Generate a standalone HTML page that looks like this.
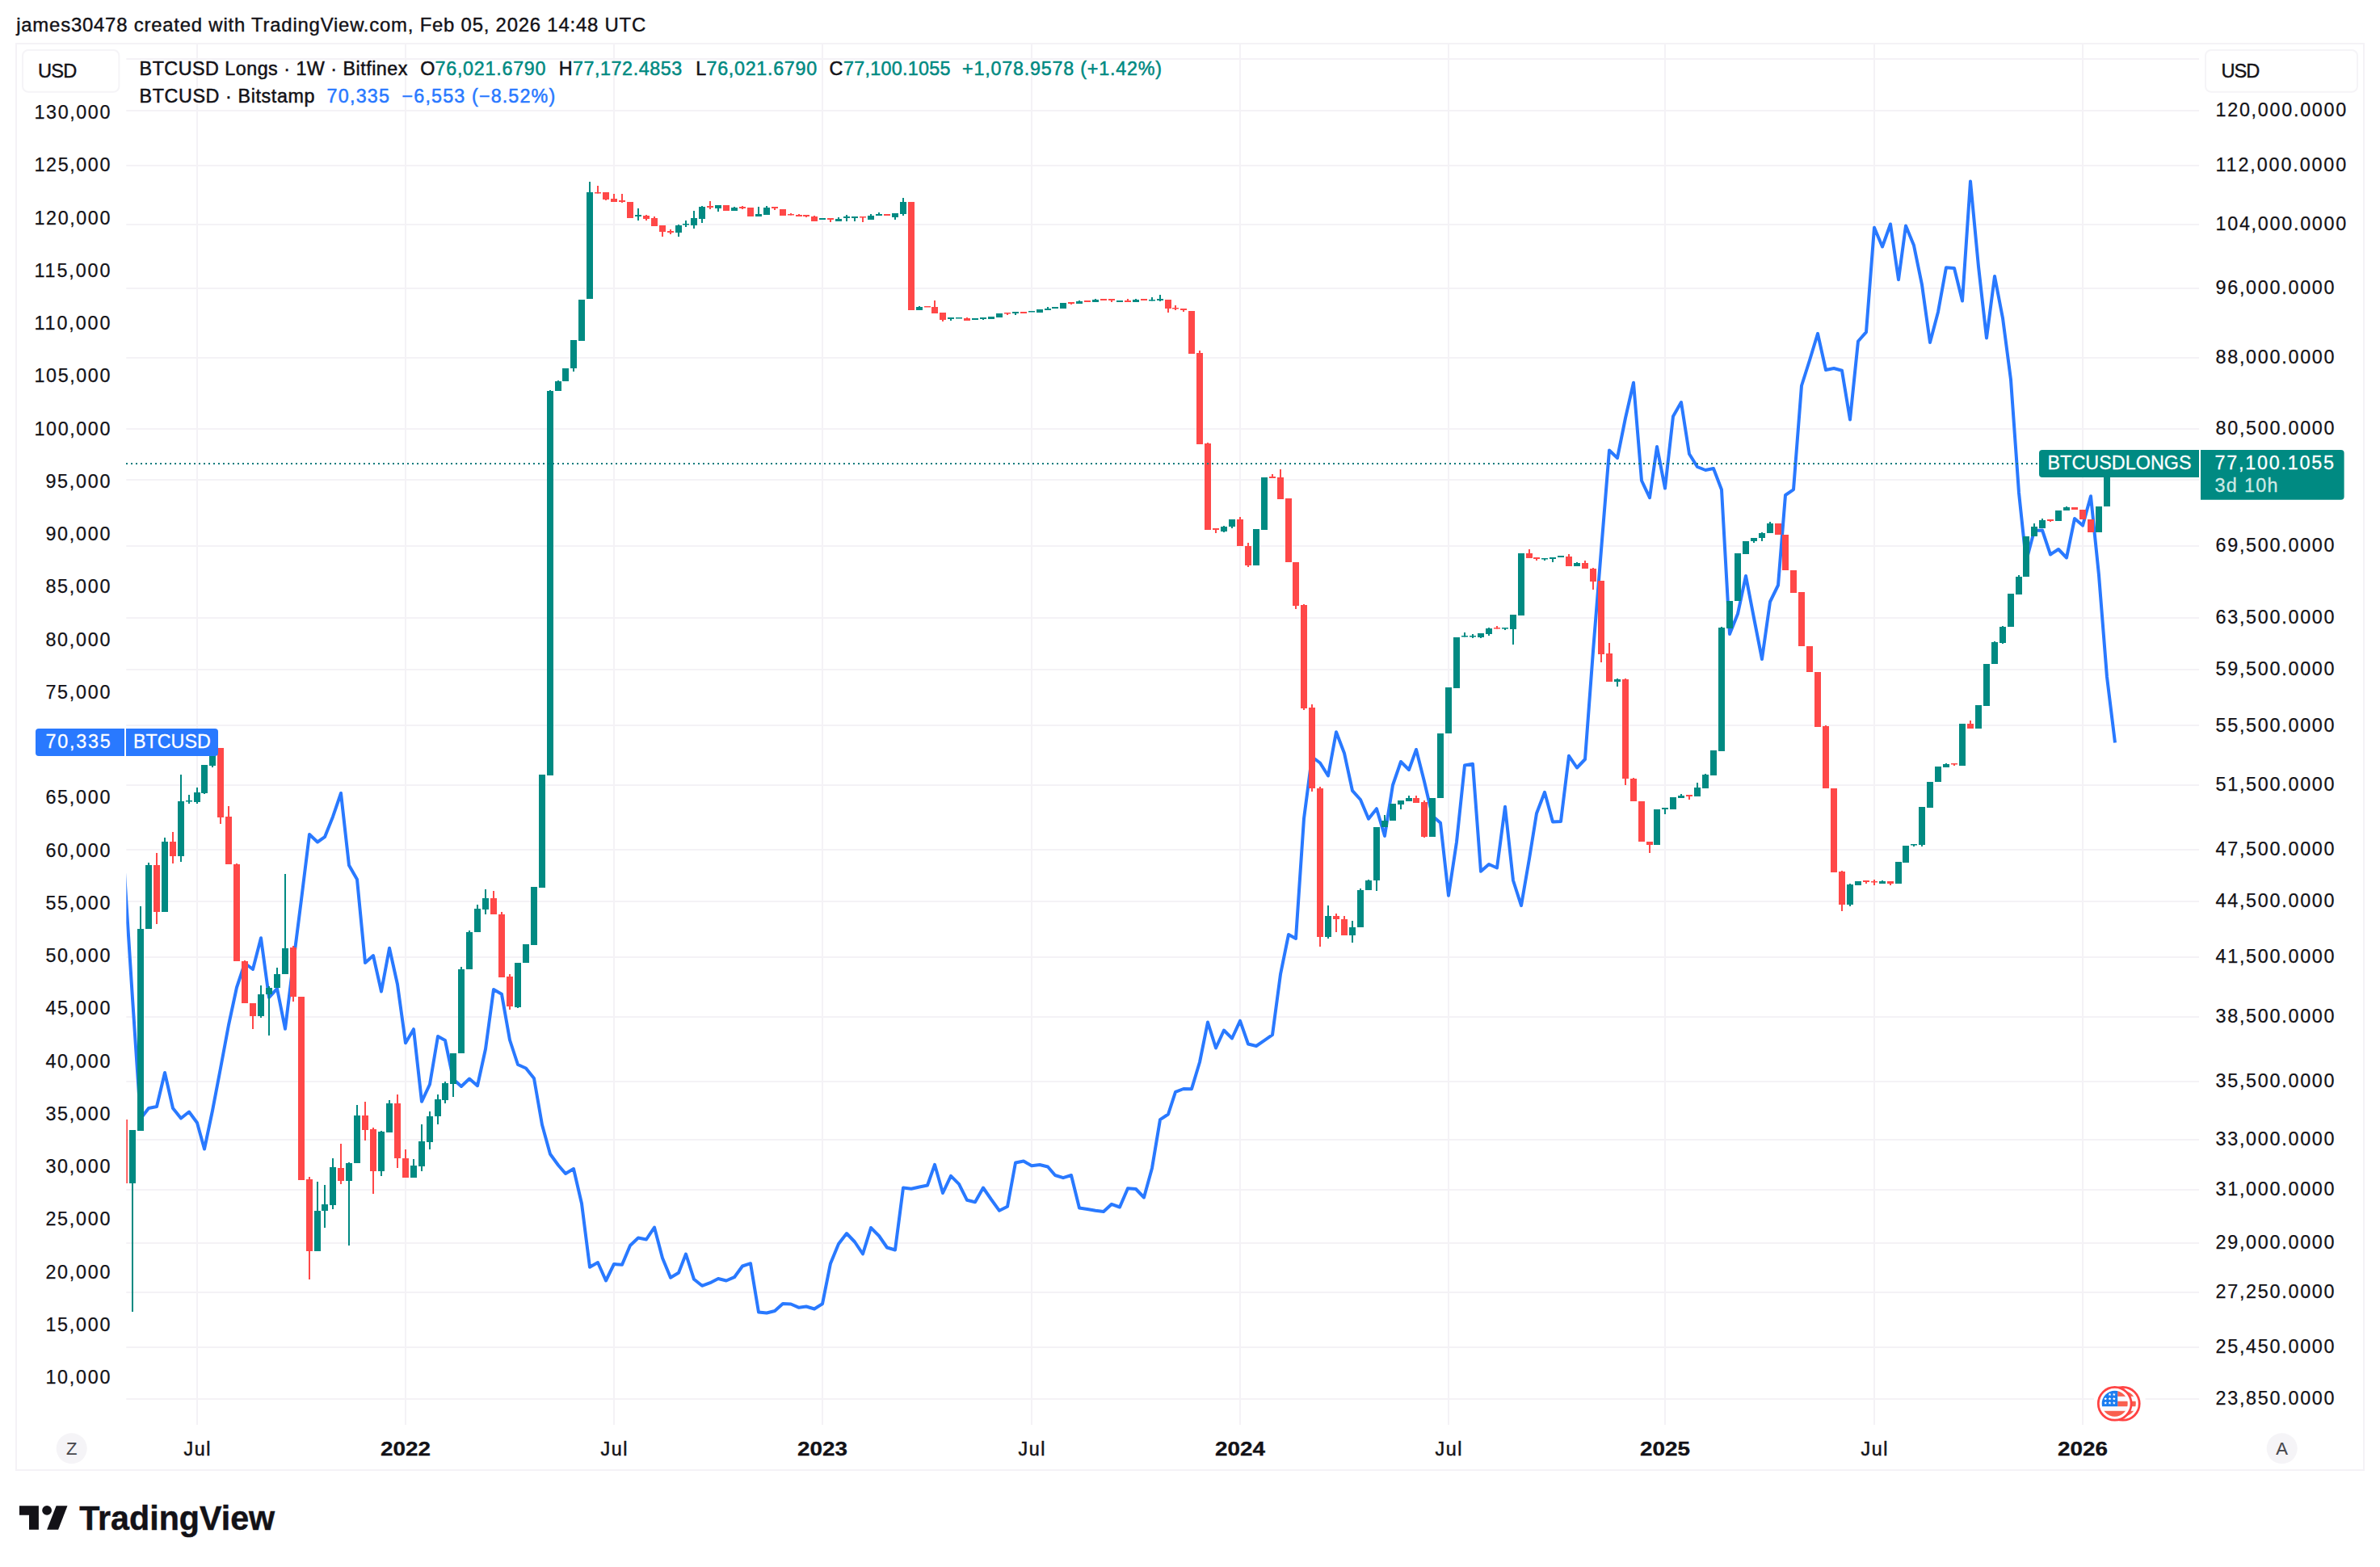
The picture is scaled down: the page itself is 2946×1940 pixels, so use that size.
<!DOCTYPE html><html><head><meta charset="utf-8"><title>BTCUSD Longs chart</title>
<style>html,body{margin:0;padding:0;background:#fff}svg{display:block}text{font-family:"Liberation Sans", Arial, sans-serif;}</style></head><body>
<svg width="2946" height="1940" viewBox="0 0 2946 1940">
<rect width="2946" height="1940" fill="#fff"/>
<rect x="20" y="54" width="2906" height="1766" fill="none" stroke="#f4f2f6" stroke-width="2"/>
<g stroke="#f4f2f6" stroke-width="2">
<line x1="156.3" y1="73.0" x2="2722.0" y2="73.0"/>
<line x1="156.3" y1="137.0" x2="2722.0" y2="137.0"/>
<line x1="156.3" y1="205.0" x2="2722.0" y2="205.0"/>
<line x1="156.3" y1="278.0" x2="2722.0" y2="278.0"/>
<line x1="156.3" y1="357.0" x2="2722.0" y2="357.0"/>
<line x1="156.3" y1="443.0" x2="2722.0" y2="443.0"/>
<line x1="156.3" y1="531.0" x2="2722.0" y2="531.0"/>
<line x1="156.3" y1="594.0" x2="2722.0" y2="594.0"/>
<line x1="156.3" y1="676.0" x2="2722.0" y2="676.0"/>
<line x1="156.3" y1="765.0" x2="2722.0" y2="765.0"/>
<line x1="156.3" y1="829.0" x2="2722.0" y2="829.0"/>
<line x1="156.3" y1="898.0" x2="2722.0" y2="898.0"/>
<line x1="156.3" y1="972.0" x2="2722.0" y2="972.0"/>
<line x1="156.3" y1="1052.0" x2="2722.0" y2="1052.0"/>
<line x1="156.3" y1="1116.0" x2="2722.0" y2="1116.0"/>
<line x1="156.3" y1="1185.0" x2="2722.0" y2="1185.0"/>
<line x1="156.3" y1="1259.0" x2="2722.0" y2="1259.0"/>
<line x1="156.3" y1="1339.0" x2="2722.0" y2="1339.0"/>
<line x1="156.3" y1="1411.0" x2="2722.0" y2="1411.0"/>
<line x1="156.3" y1="1473.0" x2="2722.0" y2="1473.0"/>
<line x1="156.3" y1="1539.0" x2="2722.0" y2="1539.0"/>
<line x1="156.3" y1="1600.0" x2="2722.0" y2="1600.0"/>
<line x1="156.3" y1="1668.0" x2="2722.0" y2="1668.0"/>
<line x1="156.3" y1="1732.0" x2="2722.0" y2="1732.0"/>
<line x1="244.0" y1="54.7" x2="244.0" y2="1764.0"/>
<line x1="502.0" y1="54.7" x2="502.0" y2="1764.0"/>
<line x1="760.0" y1="54.7" x2="760.0" y2="1764.0"/>
<line x1="1018.0" y1="54.7" x2="1018.0" y2="1764.0"/>
<line x1="1277.0" y1="54.7" x2="1277.0" y2="1764.0"/>
<line x1="1535.0" y1="54.7" x2="1535.0" y2="1764.0"/>
<line x1="1793.0" y1="54.7" x2="1793.0" y2="1764.0"/>
<line x1="2061.0" y1="54.7" x2="2061.0" y2="1764.0"/>
<line x1="2320.0" y1="54.7" x2="2320.0" y2="1764.0"/>
<line x1="2578.0" y1="54.7" x2="2578.0" y2="1764.0"/>
</g>
<defs><clipPath id="pc"><rect x="156.3" y="54.7" width="2565.7" height="1709.3"/></clipPath></defs>
<g clip-path="url(#pc)">
<polyline points="154.0,1080.0 164.0,1236.0 174.0,1385.0 184.0,1372.0 194.0,1370.0 204.0,1328.0 214.0,1372.0 224.0,1384.5 234.0,1376.5 244.0,1390.0 253.0,1422.5 263.0,1375.0 273.0,1322.5 283.0,1269.0 293.0,1222.5 303.0,1192.5 313.0,1200.0 323.0,1161.2 333.0,1235.0 343.0,1223.8 353.0,1273.8 363.0,1192.5 373.0,1113.8 383.0,1033.0 393.0,1042.5 402.0,1036.2 412.0,1011.2 422.0,982.0 432.0,1071.2 442.0,1088.8 452.0,1192.0 462.0,1183.0 472.0,1227.5 482.0,1173.8 492.0,1218.8 502.0,1291.2 512.0,1274.2 522.0,1363.8 532.0,1342.5 542.0,1283.0 551.0,1288.0 561.0,1336.0 571.0,1345.0 581.0,1335.5 591.0,1344.2 601.0,1298.8 611.0,1225.0 621.0,1230.8 631.0,1287.5 641.0,1318.0 651.0,1322.5 661.0,1335.0 671.0,1392.5 681.0,1428.8 691.0,1442.5 700.0,1453.0 710.0,1447.0 720.0,1490.0 730.0,1568.8 740.0,1563.0 750.0,1585.5 760.0,1565.0 770.0,1565.8 780.0,1542.0 790.0,1532.5 800.0,1534.5 810.0,1519.5 820.0,1557.5 830.0,1581.8 840.0,1575.8 849.0,1552.5 859.0,1583.8 869.0,1591.8 879.0,1588.2 889.0,1583.0 899.0,1585.5 909.0,1581.2 919.0,1567.5 929.0,1564.2 939.0,1624.5 949.0,1625.5 959.0,1623.0 969.0,1614.0 979.0,1614.5 989.0,1618.8 998.0,1617.5 1008.0,1620.5 1018.0,1614.2 1028.0,1564.2 1038.0,1540.0 1048.0,1527.0 1058.0,1537.5 1068.0,1552.5 1078.0,1520.0 1088.0,1530.0 1098.0,1544.5 1108.0,1547.5 1118.0,1470.5 1128.0,1471.8 1138.0,1469.5 1148.0,1467.5 1157.0,1441.8 1167.0,1477.0 1177.0,1455.8 1187.0,1465.8 1197.0,1485.8 1207.0,1488.2 1217.0,1470.5 1227.0,1485.0 1237.0,1498.8 1247.0,1493.8 1257.0,1439.5 1267.0,1437.5 1277.0,1443.2 1287.0,1442.0 1297.0,1444.5 1306.0,1455.0 1316.0,1458.2 1326.0,1455.0 1336.0,1495.5 1346.0,1497.0 1356.0,1498.8 1366.0,1500.0 1376.0,1490.8 1386.0,1494.5 1396.0,1471.2 1406.0,1472.0 1416.0,1482.5 1426.0,1446.2 1436.0,1386.2 1446.0,1379.5 1455.0,1351.8 1465.0,1348.0 1475.0,1348.2 1485.0,1315.0 1495.0,1265.5 1505.0,1297.5 1515.0,1275.5 1525.0,1285.5 1535.0,1263.8 1545.0,1292.5 1555.0,1295.0 1565.0,1288.2 1575.0,1281.2 1585.0,1206.2 1595.0,1157.0 1604.0,1162.0 1614.0,1013.5 1624.0,937.0 1634.0,944.5 1644.0,960.5 1654.0,906.2 1664.0,932.5 1674.0,978.8 1684.0,990.0 1694.0,1013.8 1704.0,1001.2 1714.0,1035.0 1724.0,972.0 1734.0,943.0 1744.0,953.0 1753.0,928.0 1763.0,967.5 1773.0,1010.0 1783.0,1018.8 1793.0,1108.8 1803.0,1042.5 1813.0,947.5 1823.0,945.8 1833.0,1078.8 1843.0,1070.0 1853.0,1074.5 1863.0,998.8 1873.0,1090.0 1883.0,1121.2 1893.0,1063.0 1902.0,1007.0 1912.0,980.8 1922.0,1017.5 1932.0,1017.0 1942.0,935.8 1952.0,950.5 1962.0,940.0 1972.0,806.0 1982.0,681.0 1992.0,557.5 2002.0,567.0 2012.0,517.5 2022.0,473.8 2032.0,595.0 2042.0,616.2 2051.0,553.0 2061.0,604.5 2071.0,515.5 2081.0,498.0 2091.0,562.0 2101.0,578.0 2111.0,582.0 2121.0,580.0 2131.0,606.2 2141.0,785.0 2151.0,760.0 2161.0,713.0 2171.0,765.0 2181.0,816.0 2191.0,745.0 2201.0,724.5 2210.0,613.0 2220.0,606.2 2230.0,477.5 2240.0,446.0 2250.0,413.0 2260.0,458.0 2270.0,456.0 2280.0,458.8 2290.0,519.5 2300.0,422.5 2310.0,411.2 2320.0,281.8 2330.0,305.5 2340.0,277.5 2350.0,346.2 2359.0,279.5 2369.0,303.8 2379.0,352.5 2389.0,424.0 2399.0,386.2 2409.0,331.2 2419.0,332.0 2429.0,372.5 2439.0,224.5 2449.0,330.0 2459.0,418.5 2469.0,342.0 2479.0,393.8 2489.0,470.0 2499.0,610.0 2508.0,695.0 2518.0,657.0 2528.0,656.5 2538.0,686.5 2548.0,680.0 2558.0,690.5 2568.0,642.0 2578.0,650.6 2588.0,614.2 2598.0,712.0 2608.0,838.0 2618.0,919.6" fill="none" stroke="#2979ff" stroke-width="4" stroke-linejoin="round" stroke-linecap="butt"/>
<g fill="#008a82">
<rect x="163.0" y="1399.0" width="2" height="225.0"/>
<rect x="160.0" y="1399.0" width="8" height="66.0"/>
<rect x="173.0" y="1122.0" width="2" height="278.0"/>
<rect x="170.0" y="1150.0" width="8" height="250.0"/>
<rect x="183.0" y="1068.0" width="2" height="82.0"/>
<rect x="180.0" y="1071.0" width="8" height="79.0"/>
<rect x="203.0" y="1037.0" width="2" height="92.0"/>
<rect x="200.0" y="1042.0" width="8" height="87.0"/>
<rect x="223.0" y="959.0" width="2" height="108.0"/>
<rect x="220.0" y="992.0" width="8" height="68.0"/>
<rect x="233.0" y="984.0" width="2" height="11.0"/>
<rect x="230.0" y="991.0" width="8" height="1.5"/>
<rect x="243.0" y="975.0" width="2" height="20.0"/>
<rect x="240.0" y="981.0" width="8" height="12.0"/>
<rect x="252.0" y="947.0" width="2" height="36.0"/>
<rect x="249.0" y="947.0" width="8" height="35.0"/>
<rect x="262.0" y="926.0" width="2" height="24.0"/>
<rect x="259.0" y="926.0" width="8" height="22.0"/>
<rect x="322.0" y="1220.0" width="2" height="40.0"/>
<rect x="319.0" y="1231.0" width="8" height="27.0"/>
<rect x="332.0" y="1221.0" width="2" height="61.0"/>
<rect x="329.0" y="1223.0" width="8" height="8.0"/>
<rect x="342.0" y="1198.0" width="2" height="25.0"/>
<rect x="339.0" y="1206.0" width="8" height="17.0"/>
<rect x="352.0" y="1082.0" width="2" height="124.0"/>
<rect x="349.0" y="1174.0" width="8" height="32.0"/>
<rect x="392.0" y="1463.0" width="2" height="86.0"/>
<rect x="389.0" y="1499.0" width="8" height="50.0"/>
<rect x="401.0" y="1467.0" width="2" height="53.0"/>
<rect x="398.0" y="1491.0" width="8" height="8.0"/>
<rect x="411.0" y="1434.0" width="2" height="63.0"/>
<rect x="408.0" y="1445.0" width="8" height="47.0"/>
<rect x="431.0" y="1439.0" width="2" height="103.0"/>
<rect x="428.0" y="1440.0" width="8" height="22.0"/>
<rect x="441.0" y="1368.0" width="2" height="72.0"/>
<rect x="438.0" y="1381.0" width="8" height="59.0"/>
<rect x="471.0" y="1400.0" width="2" height="56.0"/>
<rect x="468.0" y="1401.0" width="8" height="49.0"/>
<rect x="481.0" y="1362.0" width="2" height="40.0"/>
<rect x="478.0" y="1366.0" width="8" height="36.0"/>
<rect x="511.0" y="1435.0" width="2" height="23.0"/>
<rect x="508.0" y="1443.0" width="8" height="15.0"/>
<rect x="521.0" y="1392.0" width="2" height="58.0"/>
<rect x="518.0" y="1413.0" width="8" height="31.0"/>
<rect x="531.0" y="1376.0" width="2" height="47.0"/>
<rect x="528.0" y="1382.0" width="8" height="32.0"/>
<rect x="541.0" y="1355.0" width="2" height="37.0"/>
<rect x="538.0" y="1361.0" width="8" height="21.0"/>
<rect x="550.0" y="1339.0" width="2" height="27.0"/>
<rect x="547.0" y="1341.0" width="8" height="21.0"/>
<rect x="560.0" y="1304.0" width="2" height="54.0"/>
<rect x="557.0" y="1304.0" width="8" height="38.0"/>
<rect x="570.0" y="1197.0" width="2" height="107.0"/>
<rect x="567.0" y="1200.0" width="8" height="104.0"/>
<rect x="580.0" y="1152.0" width="2" height="48.0"/>
<rect x="577.0" y="1154.0" width="8" height="46.0"/>
<rect x="590.0" y="1120.0" width="2" height="34.0"/>
<rect x="587.0" y="1125.0" width="8" height="29.0"/>
<rect x="600.0" y="1101.0" width="2" height="31.0"/>
<rect x="597.0" y="1112.0" width="8" height="14.0"/>
<rect x="640.0" y="1192.0" width="2" height="56.0"/>
<rect x="637.0" y="1192.0" width="8" height="55.0"/>
<rect x="647.0" y="1169.0" width="8" height="23.0"/>
<rect x="657.0" y="1098.0" width="8" height="72.0"/>
<rect x="667.0" y="959.0" width="8" height="140.0"/>
<rect x="680.0" y="483.0" width="2" height="477.0"/>
<rect x="677.0" y="484.0" width="8" height="476.0"/>
<rect x="690.0" y="471.0" width="2" height="13.0"/>
<rect x="687.0" y="472.0" width="8" height="12.0"/>
<rect x="696.0" y="456.0" width="8" height="16.0"/>
<rect x="709.0" y="421.0" width="2" height="39.0"/>
<rect x="706.0" y="421.0" width="8" height="35.0"/>
<rect x="716.0" y="371.0" width="8" height="51.0"/>
<rect x="729.0" y="225.0" width="2" height="145.0"/>
<rect x="726.0" y="238.0" width="8" height="132.0"/>
<rect x="789.0" y="258.0" width="2" height="15.0"/>
<rect x="786.0" y="266.0" width="8" height="2.0"/>
<rect x="839.0" y="278.0" width="2" height="15.0"/>
<rect x="836.0" y="279.0" width="8" height="9.0"/>
<rect x="848.0" y="273.0" width="2" height="8.0"/>
<rect x="845.0" y="277.0" width="8" height="1.5"/>
<rect x="858.0" y="261.0" width="2" height="22.0"/>
<rect x="855.0" y="270.0" width="8" height="9.0"/>
<rect x="868.0" y="255.0" width="2" height="21.0"/>
<rect x="865.0" y="256.0" width="8" height="15.0"/>
<rect x="888.0" y="254.0" width="2" height="8.0"/>
<rect x="885.0" y="254.0" width="8" height="4.0"/>
<rect x="908.0" y="256.0" width="2" height="5.0"/>
<rect x="905.0" y="257.0" width="8" height="4.0"/>
<rect x="938.0" y="256.0" width="2" height="12.0"/>
<rect x="935.0" y="265.0" width="8" height="3.0"/>
<rect x="948.0" y="255.0" width="2" height="11.0"/>
<rect x="945.0" y="257.0" width="8" height="9.0"/>
<rect x="1014.0" y="270.0" width="8" height="2.0"/>
<rect x="1037.0" y="269.0" width="2" height="5.0"/>
<rect x="1034.0" y="271.0" width="8" height="3.0"/>
<rect x="1047.0" y="266.0" width="2" height="8.0"/>
<rect x="1044.0" y="268.0" width="8" height="2.0"/>
<rect x="1057.0" y="268.0" width="2" height="6.0"/>
<rect x="1054.0" y="268.0" width="8" height="2.0"/>
<rect x="1077.0" y="265.0" width="2" height="7.0"/>
<rect x="1074.0" y="267.0" width="8" height="5.0"/>
<rect x="1087.0" y="263.0" width="2" height="4.0"/>
<rect x="1084.0" y="265.0" width="8" height="2.0"/>
<rect x="1107.0" y="264.0" width="2" height="8.0"/>
<rect x="1104.0" y="264.0" width="8" height="5.0"/>
<rect x="1117.0" y="245.0" width="2" height="22.0"/>
<rect x="1114.0" y="250.0" width="8" height="15.0"/>
<rect x="1137.0" y="379.0" width="2" height="5.0"/>
<rect x="1134.0" y="380.0" width="8" height="4.0"/>
<rect x="1176.0" y="393.0" width="2" height="4.0"/>
<rect x="1173.0" y="393.0" width="8" height="2.0"/>
<rect x="1183.0" y="393.0" width="8" height="1.5"/>
<rect x="1203.0" y="394.0" width="8" height="2.0"/>
<rect x="1216.0" y="393.0" width="2" height="3.0"/>
<rect x="1213.0" y="393.0" width="8" height="2.0"/>
<rect x="1223.0" y="392.0" width="8" height="3.0"/>
<rect x="1233.0" y="388.0" width="8" height="5.0"/>
<rect x="1256.0" y="386.0" width="2" height="4.0"/>
<rect x="1253.0" y="386.0" width="8" height="2.0"/>
<rect x="1273.0" y="385.0" width="8" height="1.5"/>
<rect x="1283.0" y="383.0" width="8" height="4.0"/>
<rect x="1296.0" y="380.0" width="2" height="4.0"/>
<rect x="1293.0" y="382.0" width="8" height="2.0"/>
<rect x="1302.0" y="380.0" width="8" height="2.0"/>
<rect x="1312.0" y="375.0" width="8" height="7.0"/>
<rect x="1335.0" y="372.0" width="2" height="4.0"/>
<rect x="1332.0" y="373.0" width="8" height="3.0"/>
<rect x="1355.0" y="370.0" width="2" height="4.0"/>
<rect x="1352.0" y="371.0" width="8" height="3.0"/>
<rect x="1382.0" y="372.0" width="8" height="2.0"/>
<rect x="1405.0" y="370.0" width="2" height="4.0"/>
<rect x="1402.0" y="371.0" width="8" height="3.0"/>
<rect x="1425.0" y="368.0" width="2" height="4.5"/>
<rect x="1422.0" y="371.0" width="8" height="1.5"/>
<rect x="1435.0" y="365.0" width="2" height="8.0"/>
<rect x="1432.0" y="370.0" width="8" height="2.0"/>
<rect x="1514.0" y="651.0" width="2" height="8.0"/>
<rect x="1511.0" y="652.0" width="8" height="6.0"/>
<rect x="1524.0" y="643.0" width="2" height="11.0"/>
<rect x="1521.0" y="643.0" width="8" height="9.0"/>
<rect x="1551.0" y="655.0" width="8" height="45.0"/>
<rect x="1561.0" y="591.0" width="8" height="65.0"/>
<rect x="1643.0" y="1121.0" width="2" height="41.0"/>
<rect x="1640.0" y="1134.0" width="8" height="26.0"/>
<rect x="1673.0" y="1140.0" width="2" height="27.0"/>
<rect x="1670.0" y="1148.0" width="8" height="10.0"/>
<rect x="1683.0" y="1100.0" width="2" height="48.0"/>
<rect x="1680.0" y="1102.0" width="8" height="46.0"/>
<rect x="1693.0" y="1089.0" width="2" height="13.0"/>
<rect x="1690.0" y="1090.0" width="8" height="12.0"/>
<rect x="1703.0" y="1024.0" width="2" height="79.0"/>
<rect x="1700.0" y="1024.0" width="8" height="66.0"/>
<rect x="1713.0" y="1009.0" width="2" height="15.0"/>
<rect x="1710.0" y="1016.0" width="8" height="8.0"/>
<rect x="1720.0" y="995.0" width="8" height="21.0"/>
<rect x="1733.0" y="991.0" width="2" height="11.0"/>
<rect x="1730.0" y="991.0" width="8" height="5.0"/>
<rect x="1743.0" y="985.0" width="2" height="7.0"/>
<rect x="1740.0" y="988.0" width="8" height="4.0"/>
<rect x="1769.0" y="988.0" width="8" height="48.0"/>
<rect x="1779.0" y="908.0" width="8" height="80.0"/>
<rect x="1789.0" y="851.0" width="8" height="57.0"/>
<rect x="1799.0" y="789.0" width="8" height="63.0"/>
<rect x="1812.0" y="783.0" width="2" height="5.5"/>
<rect x="1809.0" y="787.0" width="8" height="1.5"/>
<rect x="1822.0" y="785.0" width="2" height="5.0"/>
<rect x="1819.0" y="787.0" width="8" height="1.5"/>
<rect x="1832.0" y="784.0" width="2" height="6.0"/>
<rect x="1829.0" y="784.0" width="8" height="5.0"/>
<rect x="1842.0" y="777.0" width="2" height="10.0"/>
<rect x="1839.0" y="778.0" width="8" height="7.0"/>
<rect x="1862.0" y="777.0" width="2" height="3.0"/>
<rect x="1859.0" y="777.0" width="8" height="1.5"/>
<rect x="1872.0" y="761.0" width="2" height="37.0"/>
<rect x="1869.0" y="761.0" width="8" height="18.0"/>
<rect x="1879.0" y="685.0" width="8" height="77.0"/>
<rect x="1911.0" y="691.0" width="2" height="3.0"/>
<rect x="1908.0" y="691.0" width="8" height="1.5"/>
<rect x="1921.0" y="690.0" width="2" height="6.0"/>
<rect x="1918.0" y="690.0" width="8" height="2.0"/>
<rect x="1928.0" y="688.0" width="8" height="2.0"/>
<rect x="1951.0" y="696.0" width="2" height="5.0"/>
<rect x="1948.0" y="697.0" width="8" height="4.0"/>
<rect x="2001.0" y="840.0" width="2" height="10.0"/>
<rect x="1998.0" y="841.0" width="8" height="3.0"/>
<rect x="2047.0" y="1002.0" width="8" height="44.0"/>
<rect x="2060.0" y="1000.0" width="2" height="8.0"/>
<rect x="2057.0" y="1000.0" width="8" height="2.0"/>
<rect x="2067.0" y="987.0" width="8" height="15.0"/>
<rect x="2080.0" y="983.0" width="2" height="5.0"/>
<rect x="2077.0" y="985.0" width="8" height="3.0"/>
<rect x="2100.0" y="969.0" width="2" height="17.0"/>
<rect x="2097.0" y="975.0" width="8" height="11.0"/>
<rect x="2110.0" y="958.0" width="2" height="18.0"/>
<rect x="2107.0" y="959.0" width="8" height="17.0"/>
<rect x="2117.0" y="929.0" width="8" height="31.0"/>
<rect x="2130.0" y="776.0" width="2" height="154.0"/>
<rect x="2127.0" y="777.0" width="8" height="153.0"/>
<rect x="2137.0" y="744.0" width="8" height="34.0"/>
<rect x="2147.0" y="685.0" width="8" height="59.0"/>
<rect x="2157.0" y="670.0" width="8" height="16.0"/>
<rect x="2170.0" y="666.0" width="2" height="6.0"/>
<rect x="2167.0" y="666.0" width="8" height="4.0"/>
<rect x="2180.0" y="659.0" width="2" height="11.0"/>
<rect x="2177.0" y="660.0" width="8" height="6.0"/>
<rect x="2190.0" y="646.0" width="2" height="14.0"/>
<rect x="2187.0" y="648.0" width="8" height="12.0"/>
<rect x="2289.0" y="1094.0" width="2" height="28.0"/>
<rect x="2286.0" y="1095.0" width="8" height="25.0"/>
<rect x="2296.0" y="1091.0" width="8" height="5.0"/>
<rect x="2329.0" y="1090.0" width="2" height="4.0"/>
<rect x="2326.0" y="1091.0" width="8" height="3.0"/>
<rect x="2346.0" y="1067.0" width="8" height="27.0"/>
<rect x="2355.0" y="1047.0" width="8" height="21.0"/>
<rect x="2368.0" y="1045.0" width="2" height="3.0"/>
<rect x="2365.0" y="1045.0" width="8" height="1.5"/>
<rect x="2378.0" y="999.0" width="2" height="49.0"/>
<rect x="2375.0" y="999.0" width="8" height="47.0"/>
<rect x="2385.0" y="968.0" width="8" height="32.0"/>
<rect x="2395.0" y="949.0" width="8" height="19.0"/>
<rect x="2408.0" y="945.0" width="2" height="5.0"/>
<rect x="2405.0" y="946.0" width="8" height="4.0"/>
<rect x="2425.0" y="896.0" width="8" height="52.0"/>
<rect x="2445.0" y="873.0" width="8" height="29.0"/>
<rect x="2455.0" y="822.0" width="8" height="52.0"/>
<rect x="2468.0" y="794.0" width="2" height="28.0"/>
<rect x="2465.0" y="795.0" width="8" height="27.0"/>
<rect x="2478.0" y="775.0" width="2" height="22.0"/>
<rect x="2475.0" y="776.0" width="8" height="20.0"/>
<rect x="2485.0" y="735.0" width="8" height="41.0"/>
<rect x="2498.0" y="712.0" width="2" height="24.0"/>
<rect x="2495.0" y="714.0" width="8" height="22.0"/>
<rect x="2504.0" y="664.0" width="8" height="50.0"/>
<rect x="2517.0" y="648.0" width="2" height="16.0"/>
<rect x="2514.0" y="652.0" width="8" height="12.0"/>
<rect x="2527.0" y="642.0" width="2" height="12.0"/>
<rect x="2524.0" y="644.0" width="8" height="10.0"/>
<rect x="2544.0" y="632.0" width="8" height="13.0"/>
<rect x="2557.0" y="627.0" width="2" height="5.0"/>
<rect x="2554.0" y="628.0" width="8" height="4.0"/>
<rect x="2594.0" y="627.0" width="8" height="32.0"/>
<rect x="2604.0" y="591.0" width="8" height="36.0"/>
</g>
<g fill="#ff4848">
<rect x="150.0" y="1386.0" width="8" height="79.0"/>
<rect x="193.0" y="1056.0" width="2" height="88.0"/>
<rect x="190.0" y="1071.0" width="8" height="58.0"/>
<rect x="213.0" y="1030.0" width="2" height="39.0"/>
<rect x="210.0" y="1042.0" width="8" height="18.0"/>
<rect x="272.0" y="926.0" width="2" height="94.0"/>
<rect x="269.0" y="926.0" width="8" height="86.0"/>
<rect x="282.0" y="998.0" width="2" height="72.0"/>
<rect x="279.0" y="1011.0" width="8" height="59.0"/>
<rect x="292.0" y="1069.0" width="2" height="121.0"/>
<rect x="289.0" y="1070.0" width="8" height="120.0"/>
<rect x="302.0" y="1189.0" width="2" height="53.0"/>
<rect x="299.0" y="1190.0" width="8" height="52.0"/>
<rect x="312.0" y="1242.0" width="2" height="32.0"/>
<rect x="309.0" y="1242.0" width="8" height="16.0"/>
<rect x="362.0" y="1171.0" width="2" height="69.0"/>
<rect x="359.0" y="1173.0" width="8" height="61.0"/>
<rect x="369.0" y="1234.0" width="8" height="227.0"/>
<rect x="382.0" y="1457.0" width="2" height="127.0"/>
<rect x="379.0" y="1460.0" width="8" height="89.0"/>
<rect x="421.0" y="1416.0" width="2" height="50.0"/>
<rect x="418.0" y="1446.0" width="8" height="16.0"/>
<rect x="451.0" y="1364.0" width="2" height="48.0"/>
<rect x="448.0" y="1381.0" width="8" height="18.0"/>
<rect x="461.0" y="1396.0" width="2" height="82.0"/>
<rect x="458.0" y="1398.0" width="8" height="52.0"/>
<rect x="491.0" y="1355.0" width="2" height="91.0"/>
<rect x="488.0" y="1366.0" width="8" height="68.0"/>
<rect x="501.0" y="1423.0" width="2" height="35.0"/>
<rect x="498.0" y="1434.0" width="8" height="24.0"/>
<rect x="610.0" y="1103.0" width="2" height="29.0"/>
<rect x="607.0" y="1112.0" width="8" height="20.0"/>
<rect x="620.0" y="1129.0" width="2" height="81.0"/>
<rect x="617.0" y="1132.0" width="8" height="78.0"/>
<rect x="630.0" y="1206.0" width="2" height="44.0"/>
<rect x="627.0" y="1209.0" width="8" height="37.0"/>
<rect x="739.0" y="230.0" width="2" height="9.5"/>
<rect x="736.0" y="238.0" width="8" height="1.5"/>
<rect x="749.0" y="238.0" width="2" height="10.0"/>
<rect x="746.0" y="238.0" width="8" height="9.0"/>
<rect x="759.0" y="240.0" width="2" height="10.0"/>
<rect x="756.0" y="246.0" width="8" height="4.0"/>
<rect x="769.0" y="240.0" width="2" height="11.0"/>
<rect x="766.0" y="248.0" width="8" height="2.0"/>
<rect x="776.0" y="250.0" width="8" height="20.0"/>
<rect x="799.0" y="266.0" width="2" height="7.0"/>
<rect x="796.0" y="267.0" width="8" height="4.0"/>
<rect x="809.0" y="268.0" width="2" height="12.0"/>
<rect x="806.0" y="270.0" width="8" height="10.0"/>
<rect x="819.0" y="279.0" width="2" height="14.0"/>
<rect x="816.0" y="279.0" width="8" height="8.0"/>
<rect x="829.0" y="284.0" width="2" height="6.0"/>
<rect x="826.0" y="286.0" width="8" height="2.0"/>
<rect x="878.0" y="249.0" width="2" height="10.0"/>
<rect x="875.0" y="255.0" width="8" height="2.0"/>
<rect x="895.0" y="254.0" width="8" height="7.0"/>
<rect x="918.0" y="255.0" width="2" height="4.0"/>
<rect x="915.0" y="256.0" width="8" height="2.0"/>
<rect x="925.0" y="257.0" width="8" height="11.0"/>
<rect x="958.0" y="256.0" width="2" height="4.0"/>
<rect x="955.0" y="256.0" width="8" height="2.0"/>
<rect x="965.0" y="259.0" width="8" height="8.0"/>
<rect x="978.0" y="264.0" width="2" height="2.5"/>
<rect x="975.0" y="265.0" width="8" height="1.5"/>
<rect x="988.0" y="265.0" width="2" height="3.0"/>
<rect x="985.0" y="266.0" width="8" height="2.0"/>
<rect x="997.0" y="266.0" width="2" height="3.0"/>
<rect x="994.0" y="266.0" width="8" height="2.0"/>
<rect x="1007.0" y="267.0" width="2" height="7.0"/>
<rect x="1004.0" y="268.0" width="8" height="6.0"/>
<rect x="1027.0" y="270.0" width="2" height="5.0"/>
<rect x="1024.0" y="270.0" width="8" height="2.0"/>
<rect x="1067.0" y="268.0" width="2" height="7.0"/>
<rect x="1064.0" y="268.0" width="8" height="1.5"/>
<rect x="1094.0" y="265.0" width="8" height="2.0"/>
<rect x="1124.0" y="250.0" width="8" height="134.0"/>
<rect x="1144.0" y="379.0" width="8" height="1.5"/>
<rect x="1156.0" y="372.0" width="2" height="16.0"/>
<rect x="1153.0" y="380.0" width="8" height="8.0"/>
<rect x="1166.0" y="387.0" width="2" height="11.0"/>
<rect x="1163.0" y="387.0" width="8" height="9.0"/>
<rect x="1196.0" y="393.0" width="2" height="4.0"/>
<rect x="1193.0" y="394.0" width="8" height="3.0"/>
<rect x="1246.0" y="387.0" width="2" height="3.0"/>
<rect x="1243.0" y="387.0" width="8" height="1.5"/>
<rect x="1263.0" y="386.0" width="8" height="2.0"/>
<rect x="1325.0" y="374.0" width="2" height="3.0"/>
<rect x="1322.0" y="374.0" width="8" height="2.0"/>
<rect x="1342.0" y="372.0" width="8" height="2.0"/>
<rect x="1362.0" y="370.0" width="8" height="2.0"/>
<rect x="1375.0" y="370.0" width="2" height="4.0"/>
<rect x="1372.0" y="370.0" width="8" height="2.0"/>
<rect x="1395.0" y="370.0" width="2" height="4.0"/>
<rect x="1392.0" y="372.0" width="8" height="2.0"/>
<rect x="1412.0" y="370.0" width="8" height="2.0"/>
<rect x="1445.0" y="371.0" width="2" height="16.0"/>
<rect x="1442.0" y="371.0" width="8" height="11.0"/>
<rect x="1454.0" y="378.0" width="2" height="6.0"/>
<rect x="1451.0" y="381.0" width="8" height="1.5"/>
<rect x="1464.0" y="382.0" width="2" height="4.0"/>
<rect x="1461.0" y="382.0" width="8" height="2.0"/>
<rect x="1471.0" y="385.0" width="8" height="53.0"/>
<rect x="1484.0" y="434.0" width="2" height="116.0"/>
<rect x="1481.0" y="437.0" width="8" height="113.0"/>
<rect x="1494.0" y="548.0" width="2" height="108.0"/>
<rect x="1491.0" y="549.0" width="8" height="107.0"/>
<rect x="1504.0" y="654.0" width="2" height="6.0"/>
<rect x="1501.0" y="654.0" width="8" height="2.0"/>
<rect x="1534.0" y="640.0" width="2" height="36.0"/>
<rect x="1531.0" y="643.0" width="8" height="33.0"/>
<rect x="1544.0" y="672.0" width="2" height="30.0"/>
<rect x="1541.0" y="676.0" width="8" height="24.0"/>
<rect x="1574.0" y="587.0" width="2" height="5.0"/>
<rect x="1571.0" y="590.0" width="8" height="2.0"/>
<rect x="1584.0" y="581.0" width="2" height="37.0"/>
<rect x="1581.0" y="591.0" width="8" height="27.0"/>
<rect x="1591.0" y="617.0" width="8" height="79.0"/>
<rect x="1603.0" y="696.0" width="2" height="58.0"/>
<rect x="1600.0" y="696.0" width="8" height="54.0"/>
<rect x="1613.0" y="748.0" width="2" height="131.0"/>
<rect x="1610.0" y="749.0" width="8" height="128.0"/>
<rect x="1623.0" y="872.0" width="2" height="108.0"/>
<rect x="1620.0" y="876.0" width="8" height="100.0"/>
<rect x="1633.0" y="974.0" width="2" height="198.0"/>
<rect x="1630.0" y="976.0" width="8" height="184.0"/>
<rect x="1653.0" y="1131.0" width="2" height="23.0"/>
<rect x="1650.0" y="1134.0" width="8" height="4.0"/>
<rect x="1663.0" y="1134.0" width="2" height="24.0"/>
<rect x="1660.0" y="1138.0" width="8" height="20.0"/>
<rect x="1752.0" y="985.0" width="2" height="9.0"/>
<rect x="1749.0" y="988.0" width="8" height="6.0"/>
<rect x="1762.0" y="991.0" width="2" height="46.0"/>
<rect x="1759.0" y="993.0" width="8" height="43.0"/>
<rect x="1852.0" y="775.0" width="2" height="3.5"/>
<rect x="1849.0" y="777.0" width="8" height="1.5"/>
<rect x="1892.0" y="680.0" width="2" height="11.0"/>
<rect x="1889.0" y="685.0" width="8" height="6.0"/>
<rect x="1901.0" y="690.0" width="2" height="4.0"/>
<rect x="1898.0" y="690.0" width="8" height="2.0"/>
<rect x="1941.0" y="686.0" width="2" height="15.0"/>
<rect x="1938.0" y="689.0" width="8" height="12.0"/>
<rect x="1961.0" y="694.0" width="2" height="10.0"/>
<rect x="1958.0" y="697.0" width="8" height="7.0"/>
<rect x="1971.0" y="703.0" width="2" height="27.0"/>
<rect x="1968.0" y="704.0" width="8" height="16.0"/>
<rect x="1981.0" y="719.0" width="2" height="101.0"/>
<rect x="1978.0" y="719.0" width="8" height="91.0"/>
<rect x="1991.0" y="796.0" width="2" height="48.0"/>
<rect x="1988.0" y="809.0" width="8" height="35.0"/>
<rect x="2011.0" y="840.0" width="2" height="132.0"/>
<rect x="2008.0" y="841.0" width="8" height="123.0"/>
<rect x="2021.0" y="963.0" width="2" height="29.0"/>
<rect x="2018.0" y="964.0" width="8" height="28.0"/>
<rect x="2028.0" y="992.0" width="8" height="50.0"/>
<rect x="2041.0" y="1042.0" width="2" height="14.0"/>
<rect x="2038.0" y="1042.0" width="8" height="4.0"/>
<rect x="2090.0" y="984.0" width="2" height="6.0"/>
<rect x="2087.0" y="984.0" width="8" height="2.0"/>
<rect x="2197.0" y="648.0" width="8" height="14.0"/>
<rect x="2206.0" y="662.0" width="8" height="44.0"/>
<rect x="2216.0" y="706.0" width="8" height="28.0"/>
<rect x="2226.0" y="733.0" width="8" height="67.0"/>
<rect x="2236.0" y="800.0" width="8" height="32.0"/>
<rect x="2246.0" y="832.0" width="8" height="68.0"/>
<rect x="2259.0" y="898.0" width="2" height="78.0"/>
<rect x="2256.0" y="899.0" width="8" height="77.0"/>
<rect x="2266.0" y="976.0" width="8" height="104.0"/>
<rect x="2279.0" y="1078.0" width="2" height="50.0"/>
<rect x="2276.0" y="1079.0" width="8" height="41.0"/>
<rect x="2309.0" y="1090.0" width="2" height="4.0"/>
<rect x="2306.0" y="1090.0" width="8" height="2.0"/>
<rect x="2319.0" y="1089.0" width="2" height="7.0"/>
<rect x="2316.0" y="1091.0" width="8" height="1.5"/>
<rect x="2339.0" y="1091.0" width="2" height="5.0"/>
<rect x="2336.0" y="1091.0" width="8" height="3.0"/>
<rect x="2418.0" y="945.0" width="2" height="3.0"/>
<rect x="2415.0" y="945.0" width="8" height="1.5"/>
<rect x="2438.0" y="892.0" width="2" height="10.0"/>
<rect x="2435.0" y="896.0" width="8" height="6.0"/>
<rect x="2537.0" y="643.0" width="2" height="3.0"/>
<rect x="2534.0" y="643.0" width="8" height="2.0"/>
<rect x="2564.0" y="628.0" width="8" height="3.0"/>
<rect x="2574.0" y="631.0" width="8" height="12.0"/>
<rect x="2584.0" y="643.0" width="8" height="16.0"/>
</g>
</g>
<line x1="156" y1="574" x2="2524" y2="574" stroke="#007a7c" stroke-width="2" stroke-dasharray="2 4"/>
<text x="20.2" y="39.0" font-size="23.9" fill="#131217" stroke="#131217" stroke-width="0.4" textLength="779.0" lengthAdjust="spacing">james30478 created with TradingView.com, Feb 05, 2026 14:48 UTC</text>
<rect x="28" y="62" width="119.4" height="51.8" rx="7" fill="#fff" stroke="#f5f4f7" stroke-width="2"/>
<text x="47.1" y="96.0" font-size="23.6" fill="#131217" stroke="#131217" stroke-width="0.4" textLength="48.2" lengthAdjust="spacing">USD</text>
<rect x="2730" y="62" width="188" height="51.8" rx="7" fill="#fff" stroke="#f5f4f7" stroke-width="2"/>
<text x="2749.4" y="96.0" font-size="23.6" fill="#131217" stroke="#131217" stroke-width="0.4" textLength="47.9" lengthAdjust="spacing">USD</text>
<text x="172.6" y="93.1" font-size="23.3" fill="#131217" stroke="#131217" stroke-width="0.5" textLength="331.8" lengthAdjust="spacing">BTCUSD Longs · 1W · Bitfinex</text>
<text x="520.3" y="93.1" font-size="23.3" fill="#131217" stroke="#131217" stroke-width="0.5" textLength="15.7" lengthAdjust="spacing">O</text>
<text x="538.5" y="93.1" font-size="23.3" fill="#008a82" stroke="#008a82" stroke-width="0.5" textLength="137.0" lengthAdjust="spacing">76,021.6790</text>
<text x="691.8" y="93.1" font-size="23.3" fill="#131217" stroke="#131217" stroke-width="0.5" textLength="15.1" lengthAdjust="spacing">H</text>
<text x="708.9" y="93.1" font-size="23.3" fill="#008a82" stroke="#008a82" stroke-width="0.5" textLength="135.4" lengthAdjust="spacing">77,172.4853</text>
<text x="861.2" y="93.1" font-size="23.3" fill="#131217" stroke="#131217" stroke-width="0.5" textLength="10.8" lengthAdjust="spacing">L</text>
<text x="874.5" y="93.1" font-size="23.3" fill="#008a82" stroke="#008a82" stroke-width="0.5" textLength="136.6" lengthAdjust="spacing">76,021.6790</text>
<text x="1026.5" y="93.1" font-size="23.3" fill="#131217" stroke="#131217" stroke-width="0.5" textLength="15.5" lengthAdjust="spacing">C</text>
<text x="1044.0" y="93.1" font-size="23.3" fill="#008a82" stroke="#008a82" stroke-width="0.5" textLength="132.5" lengthAdjust="spacing">77,100.1055</text>
<text x="1191.0" y="93.1" font-size="23.3" fill="#008a82" stroke="#008a82" stroke-width="0.5" textLength="247.0" lengthAdjust="spacing">+1,078.9578 (+1.42%)</text>
<text x="172.6" y="127.1" font-size="23.3" fill="#131217" stroke="#131217" stroke-width="0.5" textLength="216.9" lengthAdjust="spacing">BTCUSD · Bitstamp</text>
<text x="404.6" y="127.1" font-size="23.3" fill="#2979ff" stroke="#2979ff" stroke-width="0.5" textLength="77.4" lengthAdjust="spacing">70,335</text>
<text x="497.6" y="127.1" font-size="23.3" fill="#2979ff" stroke="#2979ff" stroke-width="0.5" textLength="189.6" lengthAdjust="spacing">−6,553 (−8.52%)</text>
<text x="42.5" y="147.0" font-size="23.3" fill="#131217" stroke="#131217" stroke-width="0.25" textLength="93.9" lengthAdjust="spacing">130,000</text>
<text x="42.5" y="212.2" font-size="23.3" fill="#131217" stroke="#131217" stroke-width="0.25" textLength="93.9" lengthAdjust="spacing">125,000</text>
<text x="42.5" y="277.5" font-size="23.3" fill="#131217" stroke="#131217" stroke-width="0.25" textLength="93.9" lengthAdjust="spacing">120,000</text>
<text x="42.5" y="342.8" font-size="23.3" fill="#131217" stroke="#131217" stroke-width="0.25" textLength="93.9" lengthAdjust="spacing">115,000</text>
<text x="42.5" y="408.0" font-size="23.3" fill="#131217" stroke="#131217" stroke-width="0.25" textLength="93.9" lengthAdjust="spacing">110,000</text>
<text x="42.5" y="473.2" font-size="23.3" fill="#131217" stroke="#131217" stroke-width="0.25" textLength="93.9" lengthAdjust="spacing">105,000</text>
<text x="42.5" y="538.5" font-size="23.3" fill="#131217" stroke="#131217" stroke-width="0.25" textLength="93.9" lengthAdjust="spacing">100,000</text>
<text x="56.4" y="603.8" font-size="23.3" fill="#131217" stroke="#131217" stroke-width="0.25" textLength="80.0" lengthAdjust="spacing">95,000</text>
<text x="56.4" y="669.0" font-size="23.3" fill="#131217" stroke="#131217" stroke-width="0.25" textLength="80.0" lengthAdjust="spacing">90,000</text>
<text x="56.4" y="734.2" font-size="23.3" fill="#131217" stroke="#131217" stroke-width="0.25" textLength="80.0" lengthAdjust="spacing">85,000</text>
<text x="56.4" y="799.5" font-size="23.3" fill="#131217" stroke="#131217" stroke-width="0.25" textLength="80.0" lengthAdjust="spacing">80,000</text>
<text x="56.4" y="864.8" font-size="23.3" fill="#131217" stroke="#131217" stroke-width="0.25" textLength="80.0" lengthAdjust="spacing">75,000</text>
<text x="56.4" y="995.2" font-size="23.3" fill="#131217" stroke="#131217" stroke-width="0.25" textLength="80.0" lengthAdjust="spacing">65,000</text>
<text x="56.4" y="1060.5" font-size="23.3" fill="#131217" stroke="#131217" stroke-width="0.25" textLength="80.0" lengthAdjust="spacing">60,000</text>
<text x="56.4" y="1125.8" font-size="23.3" fill="#131217" stroke="#131217" stroke-width="0.25" textLength="80.0" lengthAdjust="spacing">55,000</text>
<text x="56.4" y="1191.0" font-size="23.3" fill="#131217" stroke="#131217" stroke-width="0.25" textLength="80.0" lengthAdjust="spacing">50,000</text>
<text x="56.4" y="1256.2" font-size="23.3" fill="#131217" stroke="#131217" stroke-width="0.25" textLength="80.0" lengthAdjust="spacing">45,000</text>
<text x="56.4" y="1321.5" font-size="23.3" fill="#131217" stroke="#131217" stroke-width="0.25" textLength="80.0" lengthAdjust="spacing">40,000</text>
<text x="56.4" y="1386.8" font-size="23.3" fill="#131217" stroke="#131217" stroke-width="0.25" textLength="80.0" lengthAdjust="spacing">35,000</text>
<text x="56.4" y="1452.0" font-size="23.3" fill="#131217" stroke="#131217" stroke-width="0.25" textLength="80.0" lengthAdjust="spacing">30,000</text>
<text x="56.4" y="1517.2" font-size="23.3" fill="#131217" stroke="#131217" stroke-width="0.25" textLength="80.0" lengthAdjust="spacing">25,000</text>
<text x="56.4" y="1582.5" font-size="23.3" fill="#131217" stroke="#131217" stroke-width="0.25" textLength="80.0" lengthAdjust="spacing">20,000</text>
<text x="56.4" y="1647.8" font-size="23.3" fill="#131217" stroke="#131217" stroke-width="0.25" textLength="80.0" lengthAdjust="spacing">15,000</text>
<text x="56.4" y="1713.0" font-size="23.3" fill="#131217" stroke="#131217" stroke-width="0.25" textLength="80.0" lengthAdjust="spacing">10,000</text>
<text x="2742.5" y="144.1" font-size="23.3" fill="#131217" stroke="#131217" stroke-width="0.25" textLength="161.7" lengthAdjust="spacing">120,000.0000</text>
<text x="2742.5" y="212.0" font-size="23.3" fill="#131217" stroke="#131217" stroke-width="0.25" textLength="161.7" lengthAdjust="spacing">112,000.0000</text>
<text x="2742.5" y="285.1" font-size="23.3" fill="#131217" stroke="#131217" stroke-width="0.25" textLength="161.7" lengthAdjust="spacing">104,000.0000</text>
<text x="2742.5" y="364.2" font-size="23.3" fill="#131217" stroke="#131217" stroke-width="0.25" textLength="147.0" lengthAdjust="spacing">96,000.0000</text>
<text x="2742.5" y="450.4" font-size="23.3" fill="#131217" stroke="#131217" stroke-width="0.25" textLength="147.0" lengthAdjust="spacing">88,000.0000</text>
<text x="2742.5" y="538.4" font-size="23.3" fill="#131217" stroke="#131217" stroke-width="0.25" textLength="147.0" lengthAdjust="spacing">80,500.0000</text>
<text x="2742.5" y="683.2" font-size="23.3" fill="#131217" stroke="#131217" stroke-width="0.25" textLength="147.0" lengthAdjust="spacing">69,500.0000</text>
<text x="2742.5" y="772.2" font-size="23.3" fill="#131217" stroke="#131217" stroke-width="0.25" textLength="147.0" lengthAdjust="spacing">63,500.0000</text>
<text x="2742.5" y="836.1" font-size="23.3" fill="#131217" stroke="#131217" stroke-width="0.25" textLength="147.0" lengthAdjust="spacing">59,500.0000</text>
<text x="2742.5" y="905.6" font-size="23.3" fill="#131217" stroke="#131217" stroke-width="0.25" textLength="147.0" lengthAdjust="spacing">55,500.0000</text>
<text x="2742.5" y="979.1" font-size="23.3" fill="#131217" stroke="#131217" stroke-width="0.25" textLength="147.0" lengthAdjust="spacing">51,500.0000</text>
<text x="2742.5" y="1059.3" font-size="23.3" fill="#131217" stroke="#131217" stroke-width="0.25" textLength="147.0" lengthAdjust="spacing">47,500.0000</text>
<text x="2742.5" y="1123.1" font-size="23.3" fill="#131217" stroke="#131217" stroke-width="0.25" textLength="147.0" lengthAdjust="spacing">44,500.0000</text>
<text x="2742.5" y="1192.4" font-size="23.3" fill="#131217" stroke="#131217" stroke-width="0.25" textLength="147.0" lengthAdjust="spacing">41,500.0000</text>
<text x="2742.5" y="1266.4" font-size="23.3" fill="#131217" stroke="#131217" stroke-width="0.25" textLength="147.0" lengthAdjust="spacing">38,500.0000</text>
<text x="2742.5" y="1346.1" font-size="23.3" fill="#131217" stroke="#131217" stroke-width="0.25" textLength="147.0" lengthAdjust="spacing">35,500.0000</text>
<text x="2742.5" y="1418.3" font-size="23.3" fill="#131217" stroke="#131217" stroke-width="0.25" textLength="147.0" lengthAdjust="spacing">33,000.0000</text>
<text x="2742.5" y="1480.3" font-size="23.3" fill="#131217" stroke="#131217" stroke-width="0.25" textLength="147.0" lengthAdjust="spacing">31,000.0000</text>
<text x="2742.5" y="1546.3" font-size="23.3" fill="#131217" stroke="#131217" stroke-width="0.25" textLength="147.0" lengthAdjust="spacing">29,000.0000</text>
<text x="2742.5" y="1607.3" font-size="23.3" fill="#131217" stroke="#131217" stroke-width="0.25" textLength="147.0" lengthAdjust="spacing">27,250.0000</text>
<text x="2742.5" y="1675.2" font-size="23.3" fill="#131217" stroke="#131217" stroke-width="0.25" textLength="147.0" lengthAdjust="spacing">25,450.0000</text>
<text x="2742.5" y="1739.0" font-size="23.3" fill="#131217" stroke="#131217" stroke-width="0.25" textLength="147.0" lengthAdjust="spacing">23,850.0000</text>
<text x="227.6" y="1802.2" font-size="23.3" fill="#131217" stroke="#131217" stroke-width="0.5" textLength="32.8" lengthAdjust="spacing">Jul</text>
<text x="471.0" y="1802.2" font-size="23.7" fill="#131217" stroke="#131217" stroke-width="0.3" font-weight="bold" textLength="62.0" lengthAdjust="spacingAndGlyphs">2022</text>
<text x="743.6" y="1802.2" font-size="23.3" fill="#131217" stroke="#131217" stroke-width="0.5" textLength="32.8" lengthAdjust="spacing">Jul</text>
<text x="987.0" y="1802.2" font-size="23.7" fill="#131217" stroke="#131217" stroke-width="0.3" font-weight="bold" textLength="62.0" lengthAdjust="spacingAndGlyphs">2023</text>
<text x="1260.6" y="1802.2" font-size="23.3" fill="#131217" stroke="#131217" stroke-width="0.5" textLength="32.8" lengthAdjust="spacing">Jul</text>
<text x="1504.0" y="1802.2" font-size="23.7" fill="#131217" stroke="#131217" stroke-width="0.3" font-weight="bold" textLength="62.0" lengthAdjust="spacingAndGlyphs">2024</text>
<text x="1776.6" y="1802.2" font-size="23.3" fill="#131217" stroke="#131217" stroke-width="0.5" textLength="32.8" lengthAdjust="spacing">Jul</text>
<text x="2030.0" y="1802.2" font-size="23.7" fill="#131217" stroke="#131217" stroke-width="0.3" font-weight="bold" textLength="62.0" lengthAdjust="spacingAndGlyphs">2025</text>
<text x="2303.6" y="1802.2" font-size="23.3" fill="#131217" stroke="#131217" stroke-width="0.5" textLength="32.8" lengthAdjust="spacing">Jul</text>
<text x="2547.0" y="1802.2" font-size="23.7" fill="#131217" stroke="#131217" stroke-width="0.3" font-weight="bold" textLength="62.0" lengthAdjust="spacingAndGlyphs">2026</text>
<circle cx="88.7" cy="1793.2" r="19" fill="#f5f4f7"/>
<text x="88.7" y="1801.0" font-size="22" fill="#47474c" stroke="#47474c" stroke-width="0.15" text-anchor="middle">Z</text>
<circle cx="2824.7" cy="1793.2" r="19" fill="#f5f4f7"/>
<text x="2824.7" y="1801.0" font-size="22" fill="#47474c" stroke="#47474c" stroke-width="0.15" text-anchor="middle">A</text>
<path d="M48,902 H154 V936 H48 a4,4 0 0 1 -4,-4 V906 a4,4 0 0 1 4,-4 z" fill="#2979ff"/>
<path d="M156,902 H266 a4,4 0 0 1 4,4 V932 a4,4 0 0 1 -4,4 H156 z" fill="#2979ff"/>
<text x="56.6" y="926.0" font-size="23.3" fill="#fff" stroke="#fff" stroke-width="0.3" textLength="80.0" lengthAdjust="spacing">70,335</text>
<text x="165.0" y="926.0" font-size="23.3" fill="#fff" stroke="#fff" stroke-width="0.3" textLength="95.8" lengthAdjust="spacing">BTCUSD</text>
<path d="M2528,557 H2722 V591 H2528 a4,4 0 0 1 -4,-4 V561 a4,4 0 0 1 4,-4 z" fill="#008a82"/>
<path d="M2724,557 H2897.6 a4,4 0 0 1 4,4 V614.7 a4,4 0 0 1 -4,4 H2724 z" fill="#008a82"/>
<text x="2534.5" y="581.3" font-size="23.3" fill="#fff" stroke="#fff" stroke-width="0.3" textLength="178.0" lengthAdjust="spacing">BTCUSDLONGS</text>
<text x="2741.5" y="581.3" font-size="23.3" fill="#fff" stroke="#fff" stroke-width="0.3" textLength="147.5" lengthAdjust="spacing">77,100.1055</text>
<text x="2741.5" y="608.6" font-size="23.3" fill="#cfe9e5" stroke="#cfe9e5" stroke-width="0.3" textLength="78.0" lengthAdjust="spacing">3d 10h</text>
<rect x="2592" y="1712" width="63.5" height="52" fill="#fff"/>
<circle cx="2627.8" cy="1737.8" r="20.4" fill="#fff" stroke="#ff4343" stroke-width="2.8"/>
<clipPath id="fc2627"><circle cx="2627.8" cy="1737.8" r="16"/></clipPath>
<g clip-path="url(#fc2627)">
<rect x="2610.8" y="1721" width="34" height="34" fill="#fafafd"/>
<rect x="2631.3" y="1721.8" width="14" height="7" fill="#f9604f"/>
<rect x="2631.3" y="1734.8" width="14" height="6.4" fill="#f9604f"/>
<rect x="2610.8" y="1746.8" width="34" height="8" fill="#f9604f"/>
<rect x="2610.8" y="1721" width="20.5" height="20.2" fill="#1a7df0"/>
</g>
<polygon points="2621.60,1724.40 2622.16,1725.63 2623.50,1725.78 2622.50,1726.69 2622.78,1728.02 2621.60,1727.35 2620.42,1728.02 2620.70,1726.69 2619.70,1725.78 2621.04,1725.63" fill="#fff"/>
<polygon points="2626.90,1724.40 2627.46,1725.63 2628.80,1725.78 2627.80,1726.69 2628.08,1728.02 2626.90,1727.35 2625.72,1728.02 2626.00,1726.69 2625.00,1725.78 2626.34,1725.63" fill="#fff"/>
<polygon points="2616.30,1729.70 2616.86,1730.93 2618.20,1731.08 2617.20,1731.99 2617.48,1733.32 2616.30,1732.65 2615.12,1733.32 2615.40,1731.99 2614.40,1731.08 2615.74,1730.93" fill="#fff"/>
<polygon points="2621.60,1729.70 2622.16,1730.93 2623.50,1731.08 2622.50,1731.99 2622.78,1733.32 2621.60,1732.65 2620.42,1733.32 2620.70,1731.99 2619.70,1731.08 2621.04,1730.93" fill="#fff"/>
<polygon points="2626.90,1729.70 2627.46,1730.93 2628.80,1731.08 2627.80,1731.99 2628.08,1733.32 2626.90,1732.65 2625.72,1733.32 2626.00,1731.99 2625.00,1731.08 2626.34,1730.93" fill="#fff"/>
<polygon points="2616.30,1735.00 2616.86,1736.23 2618.20,1736.38 2617.20,1737.29 2617.48,1738.62 2616.30,1737.95 2615.12,1738.62 2615.40,1737.29 2614.40,1736.38 2615.74,1736.23" fill="#fff"/>
<polygon points="2621.60,1735.00 2622.16,1736.23 2623.50,1736.38 2622.50,1737.29 2622.78,1738.62 2621.60,1737.95 2620.42,1738.62 2620.70,1737.29 2619.70,1736.38 2621.04,1736.23" fill="#fff"/>
<polygon points="2626.90,1735.00 2627.46,1736.23 2628.80,1736.38 2627.80,1737.29 2628.08,1738.62 2626.90,1737.95 2625.72,1738.62 2626.00,1737.29 2625.00,1736.38 2626.34,1736.23" fill="#fff"/>
<circle cx="2617.7" cy="1737.8" r="20.4" fill="#fff" stroke="#ff4343" stroke-width="2.8"/>
<clipPath id="fc2617"><circle cx="2617.7" cy="1737.8" r="16"/></clipPath>
<g clip-path="url(#fc2617)">
<rect x="2600.7" y="1721" width="34" height="34" fill="#fafafd"/>
<rect x="2621.2" y="1721.8" width="14" height="7" fill="#f9604f"/>
<rect x="2621.2" y="1734.8" width="14" height="6.4" fill="#f9604f"/>
<rect x="2600.7" y="1746.8" width="34" height="8" fill="#f9604f"/>
<rect x="2600.7" y="1721" width="20.5" height="20.2" fill="#1a7df0"/>
</g>
<polygon points="2611.50,1724.40 2612.06,1725.63 2613.40,1725.78 2612.40,1726.69 2612.68,1728.02 2611.50,1727.35 2610.32,1728.02 2610.60,1726.69 2609.60,1725.78 2610.94,1725.63" fill="#fff"/>
<polygon points="2616.80,1724.40 2617.36,1725.63 2618.70,1725.78 2617.70,1726.69 2617.98,1728.02 2616.80,1727.35 2615.62,1728.02 2615.90,1726.69 2614.90,1725.78 2616.24,1725.63" fill="#fff"/>
<polygon points="2606.20,1729.70 2606.76,1730.93 2608.10,1731.08 2607.10,1731.99 2607.38,1733.32 2606.20,1732.65 2605.02,1733.32 2605.30,1731.99 2604.30,1731.08 2605.64,1730.93" fill="#fff"/>
<polygon points="2611.50,1729.70 2612.06,1730.93 2613.40,1731.08 2612.40,1731.99 2612.68,1733.32 2611.50,1732.65 2610.32,1733.32 2610.60,1731.99 2609.60,1731.08 2610.94,1730.93" fill="#fff"/>
<polygon points="2616.80,1729.70 2617.36,1730.93 2618.70,1731.08 2617.70,1731.99 2617.98,1733.32 2616.80,1732.65 2615.62,1733.32 2615.90,1731.99 2614.90,1731.08 2616.24,1730.93" fill="#fff"/>
<polygon points="2606.20,1735.00 2606.76,1736.23 2608.10,1736.38 2607.10,1737.29 2607.38,1738.62 2606.20,1737.95 2605.02,1738.62 2605.30,1737.29 2604.30,1736.38 2605.64,1736.23" fill="#fff"/>
<polygon points="2611.50,1735.00 2612.06,1736.23 2613.40,1736.38 2612.40,1737.29 2612.68,1738.62 2611.50,1737.95 2610.32,1738.62 2610.60,1737.29 2609.60,1736.38 2610.94,1736.23" fill="#fff"/>
<polygon points="2616.80,1735.00 2617.36,1736.23 2618.70,1736.38 2617.70,1737.29 2617.98,1738.62 2616.80,1737.95 2615.62,1738.62 2615.90,1737.29 2614.90,1736.38 2616.24,1736.23" fill="#fff"/>
<g fill="#131217">
<path d="M24,1864.3 H47.9 V1893.7 H36 V1875.7 H24 z"/>
<circle cx="58.1" cy="1869.9" r="5.9"/>
<path d="M69.6,1864.3 H83.5 L72.1,1893.7 H58.1 z"/>
</g>
<text x="98.2" y="1893.7" font-size="43.2" fill="#131217" stroke="#131217" stroke-width="0.5" font-weight="bold" textLength="242.0" lengthAdjust="spacingAndGlyphs">TradingView</text>
</svg></body></html>
